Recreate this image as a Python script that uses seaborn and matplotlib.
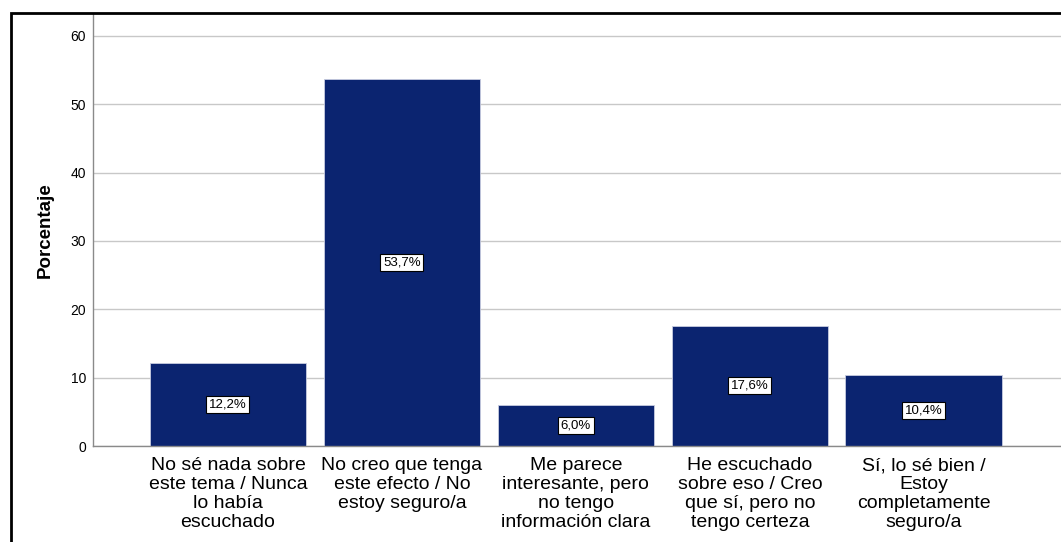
import numpy as np
import pandas as pd
import matplotlib.pyplot as plt
import seaborn as sns
from matplotlib.patches import Rectangle

# Data
categories = [
    "No sé nada sobre\neste tema / Nunca\nlo había\nescuchado",
    "No creo que tenga\neste efecto / No\nestoy seguro/a",
    "Me parece\ninteresante, pero\nno tengo\ninformación clara",
    "He escuchado\nsobre eso / Creo\nque sí, pero no\ntengo certeza",
    "Sí, lo sé bien /\nEstoy\ncompletamente\nseguro/a",
]
percentages = [12.2, 53.7, 6.0, 17.6, 10.4]
yticks = [0, 10, 20, 30, 40, 50, 60]

df = pd.DataFrame({"categoria": categories, "porcentaje": percentages})

sns.set_style("white")
plt.rcParams["font.family"] = ["Liberation Sans", "DejaVu Sans"]
plt.rcParams["text.color"] = "black"
plt.rcParams["xtick.color"] = "black"
plt.rcParams["ytick.color"] = "black"

fig = plt.figure(figsize=(10.61, 5.42), dpi=100)
ax = fig.add_axes([93 / 1061, 1 - 446 / 542, 1 - 93 / 1061 + 0.01, (446 - 14) / 542])

sns.barplot(data=df, x="categoria", y="porcentaje", color="#0b2470",
            width=0.9, saturation=1, edgecolor="#c8cce0", linewidth=0.6, ax=ax)

ax.set_xlim(-0.776, 4.85)
ax.set_ylim(0, 63.2)
ax.set_yticks(yticks)
ax.grid(axis="y", color="#c8c8c8", linewidth=1)
ax.set_axisbelow(True)
ax.tick_params(axis="y", length=0, labelsize=10, pad=5)
ax.tick_params(axis="x", length=0, labelsize=14, pad=8)
for lbl in ax.get_xticklabels():
    lbl.set_linespacing(1.15)
ax.set_xlabel("")
ax.set_ylabel("Porcentaje", fontsize=13.5, fontweight="bold", labelpad=12,
              color="black")

for side in ["top", "right"]:
    ax.spines[side].set_visible(False)
for side in ["left", "bottom"]:
    ax.spines[side].set_color("#8a8a8a")
    ax.spines[side].set_linewidth(1)

for i, v in enumerate(percentages):
    ax.text(i, v / 2, f"{v:.1f}%".replace(".", ","), ha="center", va="center",
            fontsize=9.5, color="black",
            bbox=dict(boxstyle="square,pad=0.2", facecolor="white",
                      edgecolor="black", linewidth=0.8))

# outer frame of the SPSS chart
fig.patches.append(Rectangle((11 / 1061, -0.05), 1.1, 1 - 13 / 542 + 0.05,
                             transform=fig.transFigure, fill=False,
                             edgecolor="black", linewidth=2))

fig.savefig("out.png", dpi=100)
